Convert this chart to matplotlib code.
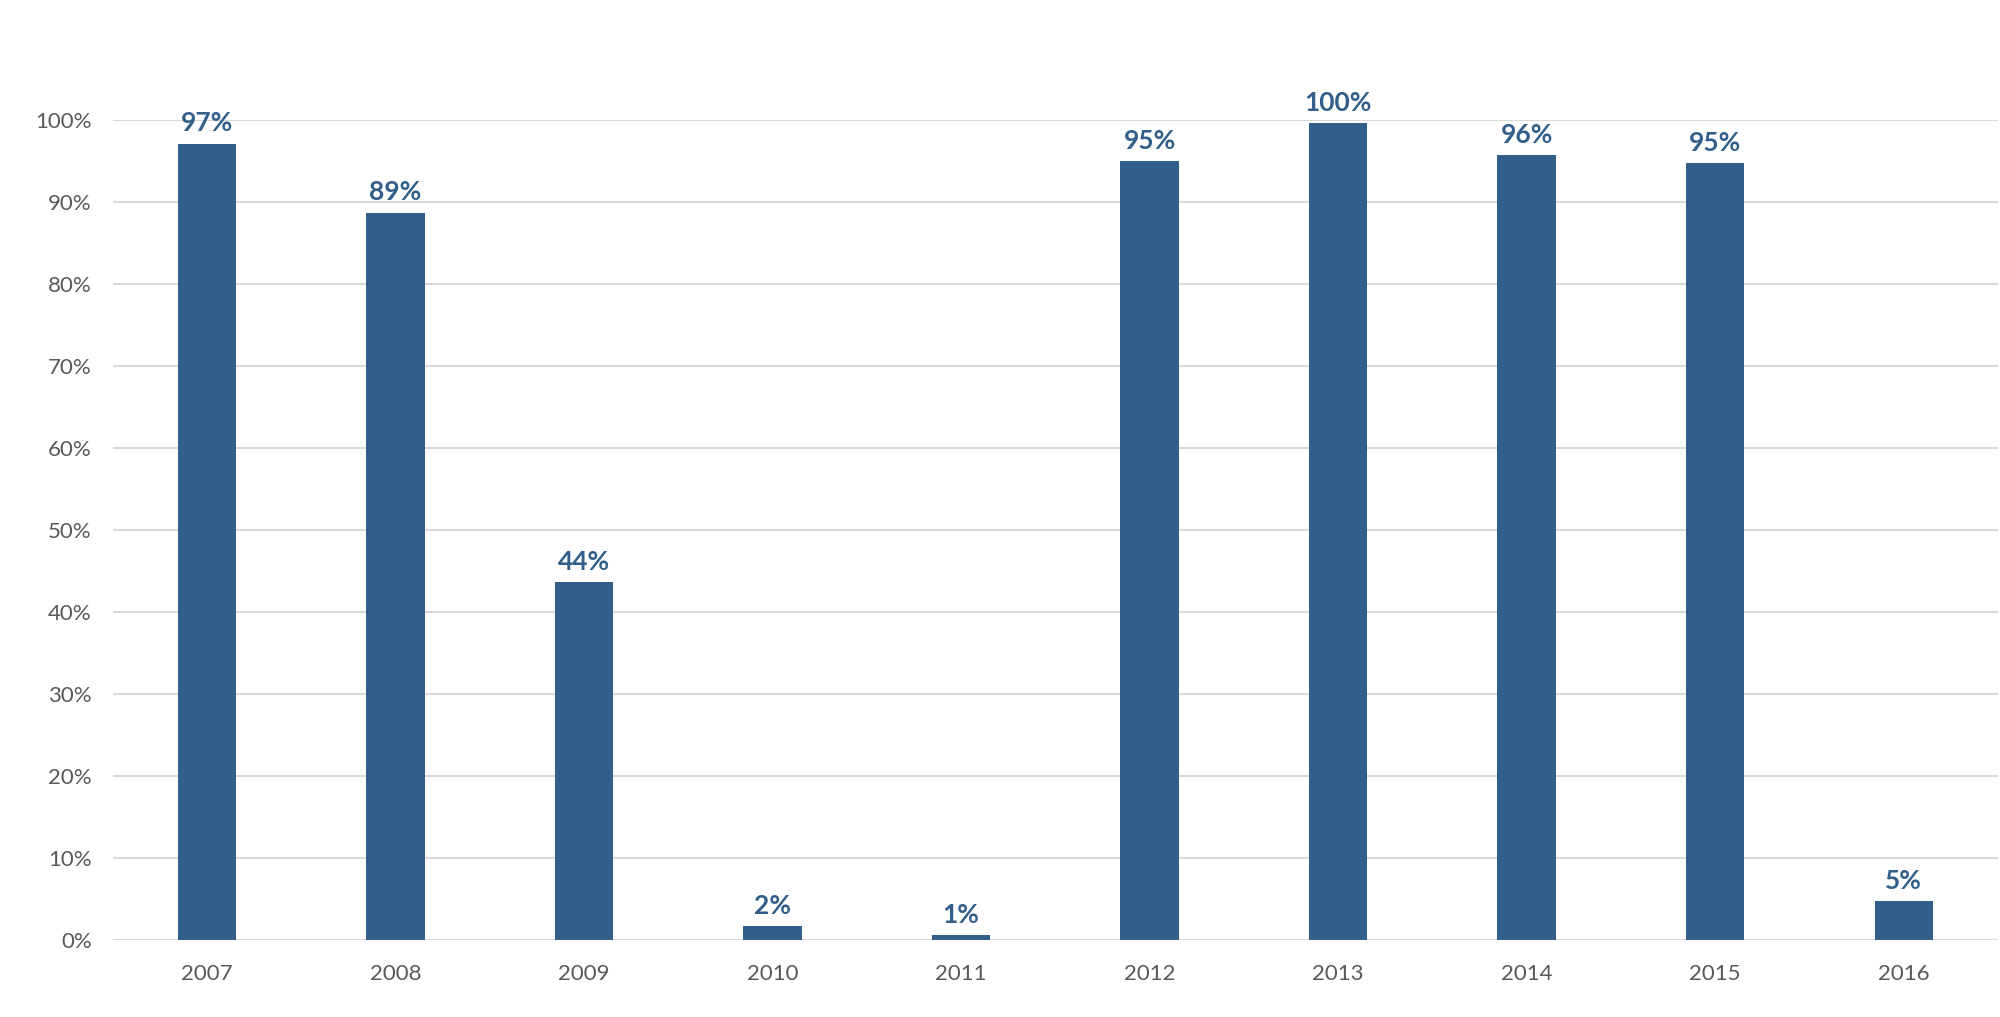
import matplotlib
matplotlib.use('Agg')
import matplotlib.pyplot as plt
from matplotlib.ticker import FuncFormatter

years = ['2007', '2008', '2009', '2010', '2011', '2012', '2013', '2014', '2015', '2016']
shares = [0.971, 0.887, 0.436, 0.017, 0.006, 0.950, 0.996, 0.957, 0.947, 0.047]
bar_labels = ['97%', '89%', '44%', '2%', '1%', '95%', '100%', '96%', '95%', '5%']
y_ticks = [0.0, 0.1, 0.2, 0.3, 0.4, 0.5, 0.6, 0.7, 0.8, 0.9, 1.0]

bar_color = '#325f8a'
text_grey = '#595959'

plt.rcParams['font.family'] = ['Lato', 'DejaVu Sans']

fig = plt.figure(figsize=(20, 10.17), dpi=100)
ax = fig.add_axes([0.0563, 0.0757, 0.9427, 0.8063])

x = list(range(len(years)))
bars = ax.bar(x, shares, width=0.31, color=bar_color, zorder=3)

for xi, v, lab in zip(x, shares, bar_labels):
    ax.annotate(lab, (xi, v), xytext=(0, 6), textcoords='offset points',
                ha='center', va='bottom', fontsize=19, fontweight='bold',
                color=bar_color, annotation_clip=False)

ax.set_xlim(-0.5, len(years) - 0.5)
ax.set_ylim(0, 1.0)
ax.set_xticks(x)
ax.set_xticklabels(years)
ax.set_yticks(y_ticks)
ax.yaxis.set_major_formatter(FuncFormatter(lambda v, p: f'{v:.0%}'))

ax.grid(axis='y', color='#d9d9d9', linewidth=1.5, zorder=0)
ax.set_axisbelow(True)
for s in ax.spines.values():
    s.set_visible(False)
ax.tick_params(axis='both', length=0, labelsize=16, colors=text_grey)
ax.tick_params(axis='x', pad=17)
ax.tick_params(axis='y', pad=15)

fig.savefig('out.png', dpi=100, facecolor='white')
